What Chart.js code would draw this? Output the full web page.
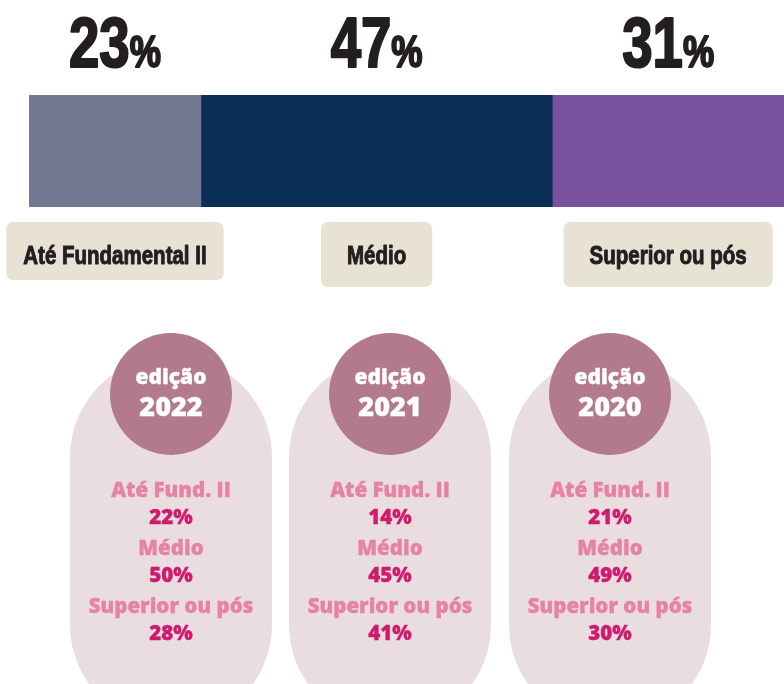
<!DOCTYPE html>
<html>
<head>
<meta charset="utf-8">
<script src="https://cdn.jsdelivr.net/npm/chart.js@4/dist/chart.umd.min.js"></script>
<style>
  body { margin: 0; background: #fff; }
  #grafico { display: block; }
</style>
</head>
<body>
<canvas id="grafico" width="784" height="684"></canvas>
<script>
// escolaridade geral
var categorias = ["Até Fundamental II", "Médio", "Superior ou pós"];
var valores = [23, 47, 31];
var cores = ["#717891", "#0a2e55", "#7b529d"];

// edições anteriores
var edicoes = ["2022", "2021", "2020"];
var rotulosCurtos = ["Até Fund. II", "Médio", "Superior ou pós"];
var fundamental = [22, 14, 21];
var medio = [50, 45, 49];
var superior = [28, 41, 30];

var total = valores.reduce(function (a, b) { return a + b; }, 0);

function textoEstreito(ctx, partes, cx, y, sx, traco) {
    // partes: [{t, font}], desenha lado a lado comprimido na horizontal
    var larg = 0;
    partes.forEach(function (p) { ctx.font = p.font; p.w = ctx.measureText(p.t).width; larg += p.w; });
    var x = cx - (larg * sx) / 2;
    ctx.save();
    ctx.textAlign = "left";
    ctx.textBaseline = "alphabetic";
    ctx.strokeStyle = ctx.fillStyle;
    ctx.lineJoin = "round";
    partes.forEach(function (p) {
        ctx.save();
        ctx.translate(x, y);
        ctx.scale(sx, 1);
        ctx.font = p.font;
        ctx.fillText(p.t, 0, 0);
        if (traco) { ctx.lineWidth = traco; ctx.strokeText(p.t, 0, 0); }
        ctx.restore();
        x += p.w * sx;
    });
    ctx.restore();
    return larg * sx;
}

function caixa(ctx, x, y, w, h, r) {
    ctx.beginPath();
    ctx.roundRect(x, y, w, h, r);
    ctx.fill();
}

function textoGrosso(ctx, t, x, y) {
    ctx.fillText(t, x, y);
    ctx.strokeStyle = ctx.fillStyle;
    ctx.lineWidth = 0.35;
    ctx.strokeText(t, x, y);
}

var rotulos = {
    id: "rotulos",
    afterDraw: function (chart) {
        var ctx = chart.ctx;
        chart.data.datasets.forEach(function (ds, i) {
            var el = chart.getDatasetMeta(i).data[0];
            var cx = (el.x + el.base) / 2;

            // percentual grande acima
            ctx.fillStyle = "#231f20";
            textoEstreito(ctx, [
                { t: String(ds.data[0]), font: "bold 70px 'Liberation Sans'" },
                { t: "%", font: "bold 45px 'Liberation Sans'" }
            ], cx, 67, 0.78, 2.2);

            // caixa com a categoria abaixo
            ctx.font = "bold 25px 'Liberation Sans'";
            var w = ctx.measureText(ds.label).width * 0.82;
            var pad = i === 0 ? 17 : 26;
            var h = i === 0 ? 58 : 65;
            ctx.fillStyle = "#e7e2d3";
            caixa(ctx, cx - w / 2 - pad, 222, w + pad * 2, h, 7);
            ctx.fillStyle = "#231f20";
            textoEstreito(ctx, [{ t: ds.label, font: "bold 25px 'Liberation Sans'" }], cx, 264, 0.82, 1);
        });

        // cartões das edições
        var centros = [171, 390, 610];
        edicoes.forEach(function (ed, j) {
            var cx = centros[j];
            ctx.fillStyle = "#e9dde0";
            caixa(ctx, cx - 101, 356, 202, 370, 101);

            ctx.fillStyle = "#b27a8a";
            ctx.beginPath();
            ctx.arc(cx, 394, 61, 0, Math.PI * 2);
            ctx.fill();

            ctx.textAlign = "center";
            ctx.textBaseline = "middle";
            ctx.fillStyle = "#ffffff";
            ctx.font = "800 21px 'Open Sans'";
            textoGrosso(ctx, "edição", cx, 378);
            ctx.font = "800 27px 'Open Sans'";
            textoGrosso(ctx, ed, cx, 408);

            var linhas = [
                [rotulosCurtos[0], fundamental[j]],
                [rotulosCurtos[1], medio[j]],
                [rotulosCurtos[2], superior[j]]
            ];
            linhas.forEach(function (l, k) {
                var y = 491 + k * 58;
                ctx.fillStyle = "#e683a3";
                ctx.font = "800 20.5px 'Open Sans'";
                textoGrosso(ctx, l[0], cx, y);
                ctx.fillStyle = "#cf1a6e";
                textoGrosso(ctx, l[1] + "%", cx, y + 27);
            });
        });
    }
};

function criar() {
    new Chart(document.getElementById("grafico"), {
        type: "bar",
        data: {
            labels: ["Escolaridade"],
            datasets: categorias.map(function (c, i) {
                return {
                    label: c,
                    data: [valores[i]],
                    backgroundColor: cores[i],
                    borderWidth: 0,
                    barPercentage: 1,
                    categoryPercentage: 1
                };
            })
        },
        options: {
            indexAxis: "y",
            responsive: false,
            animation: false,
            layout: { padding: { left: 29, right: 0, top: 95, bottom: 477 } },
            plugins: { legend: { display: false }, tooltip: { enabled: false } },
            scales: {
                x: { stacked: true, min: 0, max: total, display: false },
                y: { stacked: true, display: false }
            }
        },
        plugins: [rotulos]
    });
}

Promise.all([
    document.fonts.load("800 20px 'Open Sans'"),
    document.fonts.load("bold 20px 'Liberation Sans'")
]).then(criar, criar);
</script>
</body>
</html>
